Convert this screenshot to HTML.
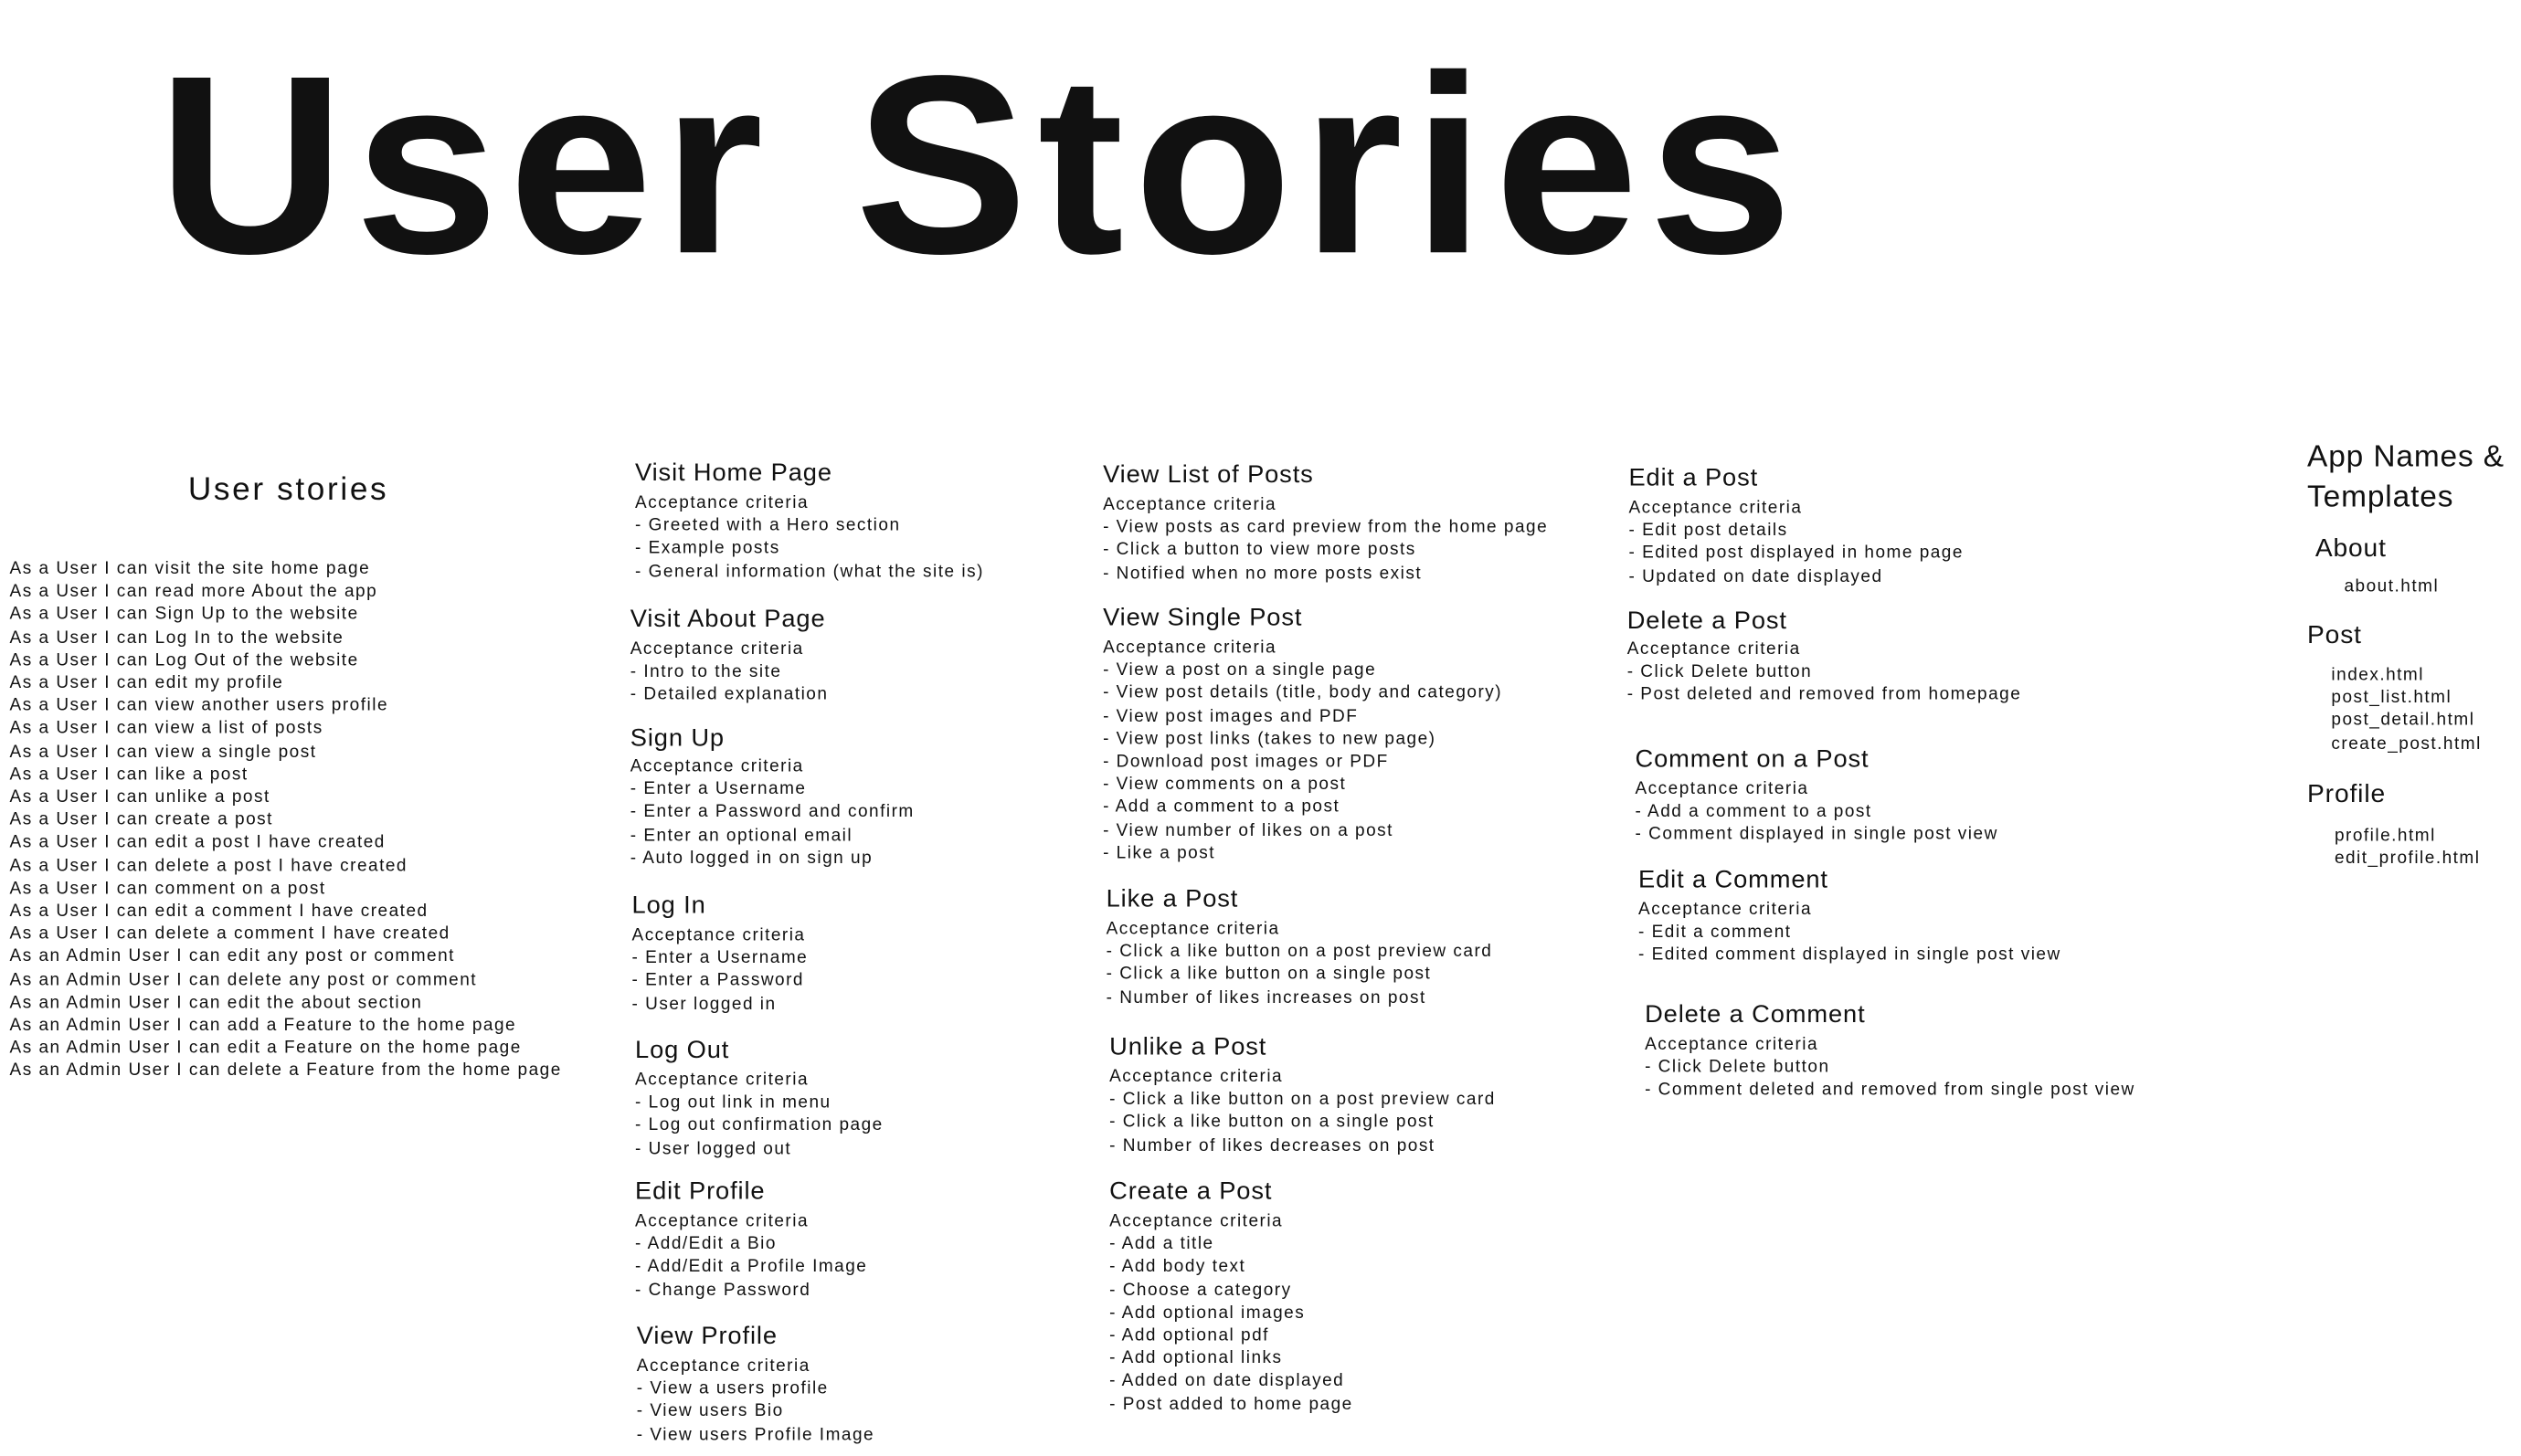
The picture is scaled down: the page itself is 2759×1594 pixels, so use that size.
<!DOCTYPE html>
<html><head><meta charset="utf-8"><style>
html,body{margin:0;padding:0;background:#fff;width:2759px;height:1594px;overflow:hidden}
#s{position:absolute;left:0;top:0;width:1568px;height:906px;transform:scale(1.7596);transform-origin:0 0;font-family:"Liberation Sans",sans-serif;color:#111}
.b{position:absolute;white-space:nowrap}
.h{font-size:15.5px;line-height:20px;height:20px;letter-spacing:0.5px}
.l{font-size:10.8px;line-height:14.2px;letter-spacing:0.85px}
</style></head><body>
<div id="s">
<div class="b" style="left:98px;top:18px;font-size:158px;line-height:170px;letter-spacing:6px;font-weight:bold;transform:scaleX(1.02);transform-origin:0 0">User Stories</div>

<div class="b" style="left:117px;top:292px;font-size:20px;line-height:26px;letter-spacing:1.5px">User stories</div>
<div class="b l" style="left:6px;top:347px">As a User I can visit the site home page<br>As a User I can read more About the app<br>As a User I can Sign Up to the website<br>As a User I can Log In to the website<br>As a User I can Log Out of the website<br>As a User I can edit my profile<br>As a User I can view another users profile<br>As a User I can view a list of posts<br>As a User I can view a single post<br>As a User I can like a post<br>As a User I can unlike a post<br>As a User I can create a post<br>As a User I can edit a post I have created<br>As a User I can delete a post I have created<br>As a User I can comment on a post<br>As a User I can edit a comment I have created<br>As a User I can delete a comment I have created<br>As an Admin User I can edit any post or comment<br>As an Admin User I can delete any post or comment<br>As an Admin User I can edit the about section<br>As an Admin User I can add a Feature to the home page<br>As an Admin User I can edit a Feature on the home page<br>As an Admin User I can delete a Feature from the home page</div>

<div class="b h" style="left:395px;top:285px">Visit Home Page</div>
<div class="b l" style="left:395px;top:306px">Acceptance criteria<br>- Greeted with a Hero section<br>- Example posts<br>- General information (what the site is)</div>
<div class="b h" style="left:392px;top:376px">Visit About Page</div>
<div class="b l" style="left:392px;top:397px">Acceptance criteria<br>- Intro to the site<br>- Detailed explanation</div>
<div class="b h" style="left:392px;top:450px">Sign Up</div>
<div class="b l" style="left:392px;top:470px">Acceptance criteria<br>- Enter a Username<br>- Enter a Password and confirm<br>- Enter an optional email<br>- Auto logged in on sign up</div>
<div class="b h" style="left:393px;top:554px">Log In</div>
<div class="b l" style="left:393px;top:575px">Acceptance criteria<br>- Enter a Username<br>- Enter a Password<br>- User logged in</div>
<div class="b h" style="left:395px;top:644px">Log Out</div>
<div class="b l" style="left:395px;top:665px">Acceptance criteria<br>- Log out link in menu<br>- Log out confirmation page<br>- User logged out</div>
<div class="b h" style="left:395px;top:732px">Edit Profile</div>
<div class="b l" style="left:395px;top:753px">Acceptance criteria<br>- Add/Edit a Bio<br>- Add/Edit a Profile Image<br>- Change Password</div>
<div class="b h" style="left:396px;top:822px">View Profile</div>
<div class="b l" style="left:396px;top:843px">Acceptance criteria<br>- View a users profile<br>- View users Bio<br>- View users Profile Image</div>

<div class="b h" style="left:686px;top:286px">View List of Posts</div>
<div class="b l" style="left:686px;top:307px">Acceptance criteria<br>- View posts as card preview from the home page<br>- Click a button to view more posts<br>- Notified when no more posts exist</div>
<div class="b h" style="left:686px;top:375px">View Single Post</div>
<div class="b l" style="left:686px;top:396px">Acceptance criteria<br>- View a post on a single page<br>- View post details (title, body and category)<br>- View post images and PDF<br>- View post links (takes to new page)<br>- Download post images or PDF<br>- View comments on a post<br>- Add a comment to a post<br>- View number of likes on a post<br>- Like a post</div>
<div class="b h" style="left:688px;top:550px">Like a Post</div>
<div class="b l" style="left:688px;top:571px">Acceptance criteria<br>- Click a like button on a post preview card<br>- Click a like button on a single post<br>- Number of likes increases on post</div>
<div class="b h" style="left:690px;top:642px">Unlike a Post</div>
<div class="b l" style="left:690px;top:663px">Acceptance criteria<br>- Click a like button on a post preview card<br>- Click a like button on a single post<br>- Number of likes decreases on post</div>
<div class="b h" style="left:690px;top:732px">Create a Post</div>
<div class="b l" style="left:690px;top:753px">Acceptance criteria<br>- Add a title<br>- Add body text<br>- Choose a category<br>- Add optional images<br>- Add optional pdf<br>- Add optional links<br>- Added on date displayed<br>- Post added to home page</div>

<div class="b h" style="left:1013px;top:288px">Edit a Post</div>
<div class="b l" style="left:1013px;top:309px">Acceptance criteria<br>- Edit post details<br>- Edited post displayed in home page<br>- Updated on date displayed</div>
<div class="b h" style="left:1012px;top:377px">Delete a Post</div>
<div class="b l" style="left:1012px;top:397px">Acceptance criteria<br>- Click Delete button<br>- Post deleted and removed from homepage</div>
<div class="b h" style="left:1017px;top:463px">Comment on a Post</div>
<div class="b l" style="left:1017px;top:484px">Acceptance criteria<br>- Add a comment to a post<br>- Comment displayed in single post view</div>
<div class="b h" style="left:1019px;top:538px">Edit a Comment</div>
<div class="b l" style="left:1019px;top:559px">Acceptance criteria<br>- Edit a comment<br>- Edited comment displayed in single post view</div>
<div class="b h" style="left:1023px;top:622px">Delete a Comment</div>
<div class="b l" style="left:1023px;top:643px">Acceptance criteria<br>- Click Delete button<br>- Comment deleted and removed from single post view</div>

<div class="b" style="left:1435px;top:272px;font-size:19px;line-height:25px;letter-spacing:0.5px">App Names &amp;<br>Templates</div>
<div class="b h" style="left:1440px;top:332px;font-size:16px">About</div>
<div class="b l" style="left:1458px;top:358px">about.html</div>
<div class="b h" style="left:1435px;top:386px;font-size:16px">Post</div>
<div class="b l" style="left:1450px;top:413px">index.html<br>post_list.html<br>post_detail.html<br>create_post.html</div>
<div class="b h" style="left:1435px;top:485px;font-size:16px">Profile</div>
<div class="b l" style="left:1452px;top:513px">profile.html<br>edit_profile.html</div>
</div>
</body></html>
